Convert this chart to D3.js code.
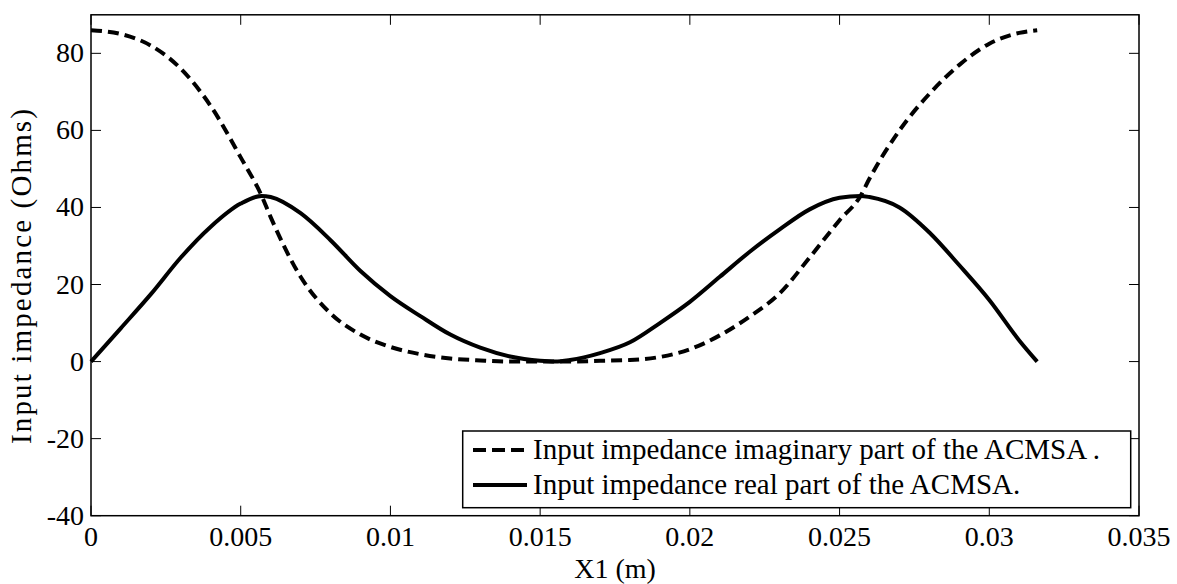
<!DOCTYPE html>
<html><head><meta charset="utf-8">
<script src="https://cdn.jsdelivr.net/npm/d3@7"></script>
<style>
body{margin:0;background:#fff;}
</style></head>
<body><svg id="c" width="1177" height="584"></svg>
<script>
const xVals = [0,0.001,0.002,0.003,0.004,0.005,0.0057,0.006,0.007,0.008,0.009,0.010,0.011,0.012,0.013,0.014,0.015,0.0155,0.016,0.017,0.018,0.019,0.020,0.021,0.022,0.023,0.024,0.025,0.0257,0.026,0.027,0.028,0.029,0.030,0.031,0.0316];
const imagPart = [86,85,82,76,66.3,53,43,37.5,22,12.5,7,3.8,1.9,0.8,0.3,0,0,0,0,0.2,0.4,1.2,3.2,6.8,11.7,17.7,27,36.7,43,47.5,60,69.5,77,82.5,85.3,86];
const realPart = [0,8.7,17.5,27,35,41,43,42.7,38.5,31.5,23.5,17,11.8,7,3.6,1.3,0.2,0,0.4,2.2,5,10,15.5,22,28.5,34.3,39.5,42.5,43,42.7,40,33.5,25,16,5.5,0];
const xTicks = [0,0.005,0.01,0.015,0.02,0.025,0.03,0.035];
const xTickLabels = ["0","0.005","0.01","0.015","0.02","0.025","0.03","0.035"];
const yTicks = [-40,-20,0,20,40,60,80];
const legendLabels = ["Input impedance imaginary part of the ACMSA .","Input impedance real part of the ACMSA."];
const xTitle = "X1 (m)";
const yTitle = "Input impedance (Ohms)";

const FF = "Liberation Serif, Times New Roman, serif";
const svg = d3.select("#c");
const L=91, R=1139, T=14.8, B=515.7;
const x = d3.scaleLinear().domain([0,0.035]).range([L,R]);
const y = d3.scaleLinear().domain([-40,90]).range([B,T]);
const fs = 28;
const txt = (sel,size)=>sel.append("text").attr("font-family",FF).attr("font-size",size||fs).attr("fill","#000");

// ticks
const g = svg.append("g");
xTicks.forEach((t,i)=>{
  g.append("line").attr("x1",x(t)).attr("x2",x(t)).attr("y1",B).attr("y2",B-10).attr("stroke","#000").attr("stroke-width",1);
  g.append("line").attr("x1",x(t)).attr("x2",x(t)).attr("y1",T).attr("y2",T+10).attr("stroke","#000").attr("stroke-width",1);
  txt(g).attr("x",x(t)).attr("y",546).attr("text-anchor","middle").text(xTickLabels[i]);
});
yTicks.forEach(t=>{
  g.append("line").attr("x1",L).attr("x2",L+10).attr("y1",y(t)).attr("y2",y(t)).attr("stroke","#000").attr("stroke-width",1);
  g.append("line").attr("x1",R).attr("x2",R-10).attr("y1",y(t)).attr("y2",y(t)).attr("stroke","#000").attr("stroke-width",1);
  txt(g).attr("x",84).attr("y",y(t)+9).attr("text-anchor","end").text(String(t));
});

// lines
const line = (arr)=>d3.line().x((d,i)=>x(xVals[i])).y((d,i)=>y(arr[i])).curve(d3.curveMonotoneX)(arr);
svg.append("path").attr("d",line(realPart)).attr("fill","none").attr("stroke","#000").attr("stroke-width",4).attr("stroke-linejoin","round");
svg.append("path").attr("d",line(imagPart)).attr("fill","none").attr("stroke","#000").attr("stroke-width",4).attr("stroke-dasharray","11,6");

// frame
svg.append("rect").attr("x",L).attr("y",T).attr("width",R-L).attr("height",B-T).attr("fill","none").attr("stroke","#000").attr("stroke-width",1.5);

// axis titles
txt(svg).attr("x",(L+R)/2).attr("y",578).attr("text-anchor","middle").text(xTitle);
txt(svg,29).attr("transform",`translate(31,444) rotate(-90)`).attr("text-anchor","start")
  .attr("textLength",335).attr("lengthAdjust","spacing").text(yTitle);

// legend
const lg = svg.append("g");
lg.append("rect").attr("x",462.7).attr("y",431).attr("width",668).attr("height",76.7).attr("fill","#fff").attr("stroke","#000").attr("stroke-width",1.5);
const rows=[450,485];
lg.append("line").attr("x1",473).attr("x2",527).attr("y1",rows[0]).attr("y2",rows[0]).attr("stroke","#000").attr("stroke-width",4).attr("stroke-dasharray","13,6");
lg.append("line").attr("x1",473).attr("x2",527).attr("y1",rows[1]).attr("y2",rows[1]).attr("stroke","#000").attr("stroke-width",4);
legendLabels.forEach((s,i)=>{
  txt(lg,29).attr("x",533).attr("y",rows[i]+9).text(s);
});
</script></body></html>
